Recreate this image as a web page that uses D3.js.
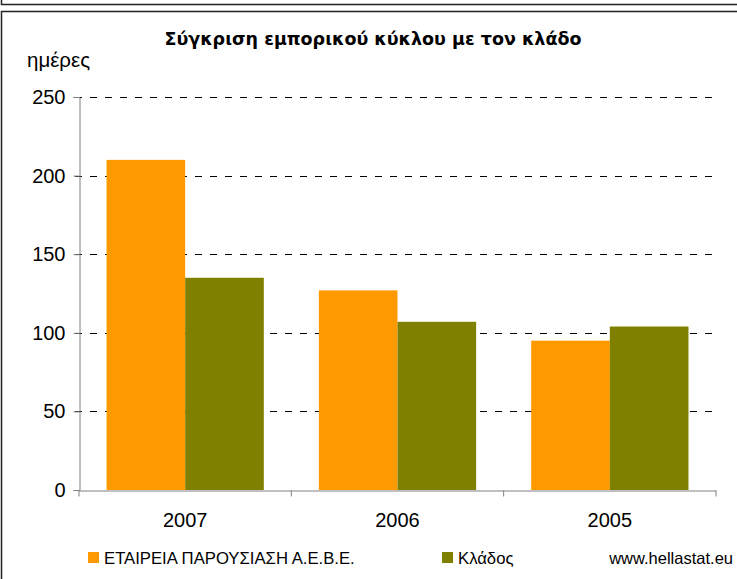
<!DOCTYPE html>
<html>
<head>
<meta charset="utf-8">
<script src="https://cdn.jsdelivr.net/npm/d3@7"></script>
<style>
  body { margin: 0; background: #fff; }
  svg text { font-family: "Liberation Sans", Arial, sans-serif; fill: #000; }
</style>
</head>
<body>
<div id="chart"></div>
<script>
const years = ["2007", "2006", "2005"];
const seriesNames = ["ΕΤΑΙΡΕΙΑ ΠΑΡΟΥΣΙΑΣΗ Α.Ε.Β.Ε.", "Κλάδος"];
const companyValues = [210, 127, 95];
const sectorValues = [135, 107, 104];
const yTicks = [0, 50, 100, 150, 200, 250];

(function() {
    const W = 737, H = 579;
    const margin = { top: 97, right: 21, bottom: 89, left: 79 };

    const svg = d3.select("#chart").append("svg")
        .attr("width", W)
        .attr("height", H);

    // outer frames
    svg.append("path")
        .attr("d", "M1.5,0 V4.5 H737")
        .attr("fill", "none").attr("stroke", "#222").attr("stroke-width", 1.5);
    svg.append("path")
        .attr("d", "M1.5,579 V11.5 H737")
        .attr("fill", "none").attr("stroke", "#222").attr("stroke-width", 1.5);

    const x = d3.scaleBand()
        .domain(years)
        .range([margin.left, W - margin.right]);

    const xInner = d3.scaleBand()
        .domain(seriesNames)
        .range([0, x.bandwidth()])
        .paddingOuter(0.35);

    const y = d3.scaleLinear()
        .domain([0, 250])
        .range([H - margin.bottom, margin.top]);

    const color = d3.scaleOrdinal()
        .domain(seriesNames)
        .range(["#FF9900", "#808000"]);

    // gridlines
    svg.append("g")
        .selectAll("line")
        .data(yTicks.filter(d => d > 0))
        .enter().append("line")
        .attr("x1", margin.left - 4)
        .attr("x2", W - margin.right)
        .attr("y1", d => Math.round(y(d)) + 0.5)
        .attr("y2", d => Math.round(y(d)) + 0.5)
        .attr("stroke", "#000")
        .attr("stroke-dasharray", "7,8");

    // bars
    const rows = years.map((yr, i) => ({ year: yr, values: [companyValues[i], sectorValues[i]] }));
    const groups = svg.append("g")
        .selectAll("g")
        .data(rows)
        .enter().append("g")
        .attr("transform", d => `translate(${x(d.year)},0)`);

    groups.selectAll("rect")
        .data(d => d.values.map((v, j) => ({ name: seriesNames[j], value: v })))
        .enter().append("rect")
        .attr("x", d => xInner(d.name))
        .attr("width", xInner.bandwidth())
        .attr("y", d => y(d.value))
        .attr("height", d => y(0) - y(d.value))
        .attr("fill", d => color(d.name));

    // y axis
    const yAxis = svg.append("g")
        .attr("transform", `translate(${margin.left + 0.5},0)`)
        .call(d3.axisLeft(y).tickValues(yTicks).tickSize(6).tickPadding(8));
    yAxis.select(".domain").attr("stroke", "#808080");
    yAxis.selectAll(".tick line").attr("stroke", "#808080");
    yAxis.selectAll("text").style("font-size", "20px");

    // x axis
    const xAxis = svg.append("g")
        .attr("transform", `translate(0,${y(0) + 0.5})`)
        .call(d3.axisBottom(x).tickSize(0).tickPadding(22));
    xAxis.select(".domain").attr("stroke", "#808080");
    xAxis.selectAll("text").style("font-size", "20px");
    xAxis.selectAll(".sep")
        .data(years.concat(["end"]))
        .enter().append("line")
        .attr("class", "sep")
        .attr("x1", (d, i) => i < years.length ? x(d) : x.range()[1])
        .attr("x2", (d, i) => i < years.length ? x(d) : x.range()[1])
        .attr("y1", 0).attr("y2", 6)
        .attr("stroke", "#808080");

    // title
    svg.append("text")
        .attr("x", 373)
        .attr("y", 45)
        .attr("text-anchor", "middle")
        .style("font-family", "'DejaVu Sans', sans-serif")
        .style("font-weight", "bold")
        .style("font-size", "17.5px")
        .text("Σύγκριση εμπορικού κύκλου με τον κλάδο");

    svg.append("text")
        .attr("x", 27)
        .attr("y", 67)
        .style("font-size", "20.5px")
        .text("ημέρες");

    // legend
    const legendX = [88, 442];
    const legend = svg.append("g")
        .selectAll("g")
        .data(seriesNames)
        .enter().append("g")
        .attr("transform", (d, i) => `translate(${legendX[i]},552)`);
    legend.append("rect")
        .attr("width", 11).attr("height", 11)
        .attr("fill", d => color(d));
    legend.append("text")
        .attr("x", 16).attr("y", 11.5)
        .style("font-size", "16.7px")
        .text(d => d);

    svg.append("text")
        .attr("x", 733)
        .attr("y", 564)
        .attr("text-anchor", "end")
        .style("font-size", "16.5px")
        .text("www.hellastat.eu");
})();
</script>
</body>
</html>
